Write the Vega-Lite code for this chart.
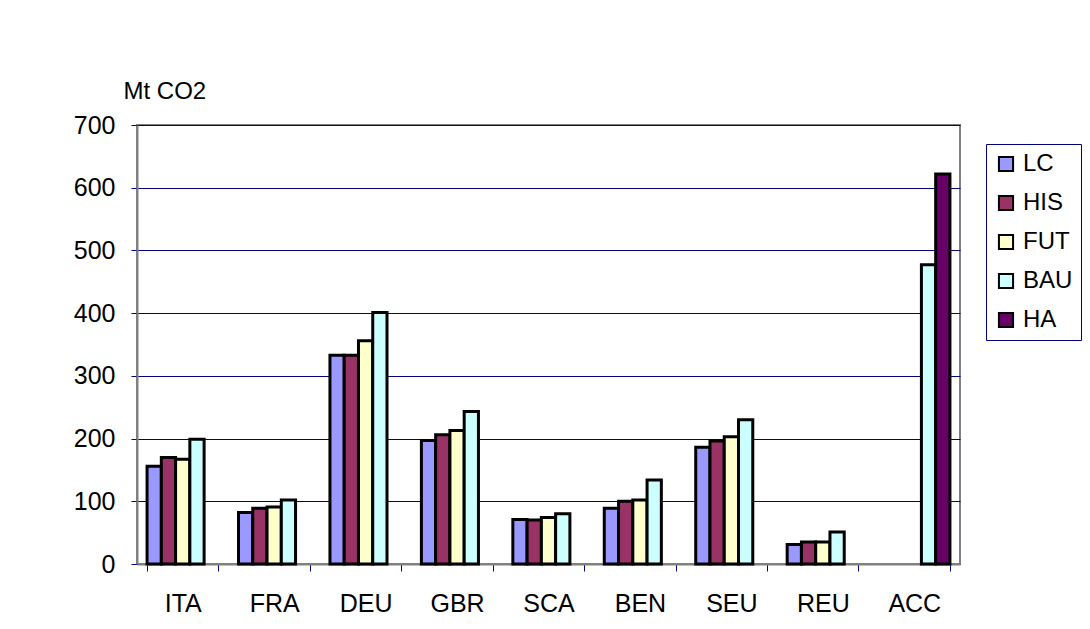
{
  "$schema": "https://vega.github.io/schema/vega-lite/v6.json",
  "width": 823,
  "height": 439,
  "autosize": {"type": "none"},
  "padding": {"left": 137, "top": 125, "right": 130, "bottom": 65},
  "background": "white",
  "config": {
    "font": "Liberation Sans",
    "view": {"stroke": "#808080", "strokeWidth": 2}
  },
  "data": {
    "values": [
      {"region": "ITA", "series": "LC", "value": 156},
      {"region": "ITA", "series": "HIS", "value": 170},
      {"region": "ITA", "series": "FUT", "value": 167},
      {"region": "ITA", "series": "BAU", "value": 199},
      {"region": "FRA", "series": "LC", "value": 82},
      {"region": "FRA", "series": "HIS", "value": 89},
      {"region": "FRA", "series": "FUT", "value": 91},
      {"region": "FRA", "series": "BAU", "value": 102},
      {"region": "DEU", "series": "LC", "value": 333},
      {"region": "DEU", "series": "HIS", "value": 333},
      {"region": "DEU", "series": "FUT", "value": 356},
      {"region": "DEU", "series": "BAU", "value": 401},
      {"region": "GBR", "series": "LC", "value": 197},
      {"region": "GBR", "series": "HIS", "value": 206},
      {"region": "GBR", "series": "FUT", "value": 213},
      {"region": "GBR", "series": "BAU", "value": 243},
      {"region": "SCA", "series": "LC", "value": 71},
      {"region": "SCA", "series": "HIS", "value": 70},
      {"region": "SCA", "series": "FUT", "value": 74},
      {"region": "SCA", "series": "BAU", "value": 80},
      {"region": "BEN", "series": "LC", "value": 89},
      {"region": "BEN", "series": "HIS", "value": 100},
      {"region": "BEN", "series": "FUT", "value": 102},
      {"region": "BEN", "series": "BAU", "value": 134},
      {"region": "SEU", "series": "LC", "value": 186},
      {"region": "SEU", "series": "HIS", "value": 196},
      {"region": "SEU", "series": "FUT", "value": 203},
      {"region": "SEU", "series": "BAU", "value": 230},
      {"region": "REU", "series": "LC", "value": 31},
      {"region": "REU", "series": "HIS", "value": 35},
      {"region": "REU", "series": "FUT", "value": 35},
      {"region": "REU", "series": "BAU", "value": 51},
      {"region": "ACC", "series": "BAU", "value": 477},
      {"region": "ACC", "series": "HA", "value": 622}
    ]
  },
  "mark": {"type": "bar", "stroke": "black", "strokeWidth": 3},
  "encoding": {
    "x": {
      "field": "region",
      "type": "nominal",
      "sort": ["ITA", "FRA", "DEU", "GBR", "SCA", "BEN", "SEU", "REU", "ACC"],
      "scale": {"paddingInner": 0.22, "paddingOuter": 0.11},
      "axis": {
        "title": null,
        "labelAngle": 0,
        "tickBand": "extent",
        "labelFontSize": 25,
        "labelColor": "black",
        "labelPadding": 20,
        "tickSize": 7,
        "tickColor": "#000080",
        "domainColor": "#808080",
        "domainWidth": 2
      }
    },
    "xOffset": {
      "field": "series",
      "type": "nominal",
      "scale": {"domain": ["LC", "HIS", "FUT", "BAU", "HA"], "paddingInner": 0, "paddingOuter": 0}
    },
    "y": {
      "field": "value",
      "type": "quantitative",
      "scale": {"domain": [0, 700], "nice": false},
      "axis": {
        "values": [0, 100, 200, 300, 400, 500, 600, 700],
        "title": "Mt CO2",
        "titleAngle": 0,
        "titleAlign": "left",
        "titleBaseline": "alphabetic",
        "titleX": -14,
        "titleY": -27,
        "titleFontSize": 24,
        "titleFontWeight": "normal",
        "titleColor": "black",
        "labelFontSize": 25,
        "labelColor": "black",
        "labelPadding": 16,
        "tickSize": 6,
        "tickColor": "#000080",
        "domainColor": "#808080",
        "domainWidth": 2,
        "gridColor": "#000080",
        "gridOpacity": 1,
        "gridWidth": 1
      }
    },
    "color": {
      "field": "series",
      "type": "nominal",
      "scale": {
        "domain": ["LC", "HIS", "FUT", "BAU", "HA"],
        "range": ["#9999FF", "#993366", "#FFFFCC", "#CCFFFF", "#660066"]
      },
      "legend": {
        "title": null,
        "orient": "none",
        "legendX": 849,
        "legendY": 19,
        "symbolType": "square",
        "symbolSize": 200,
        "symbolStrokeColor": "black",
        "symbolStrokeWidth": 2,
        "symbolOpacity": 1,
        "labelFontSize": 24,
        "labelColor": "black",
        "labelOffset": 5,
        "rowPadding": 15,
        "padding": 8,
        "strokeColor": "#000080",
        "fillColor": "white"
      }
    }
  }
}
